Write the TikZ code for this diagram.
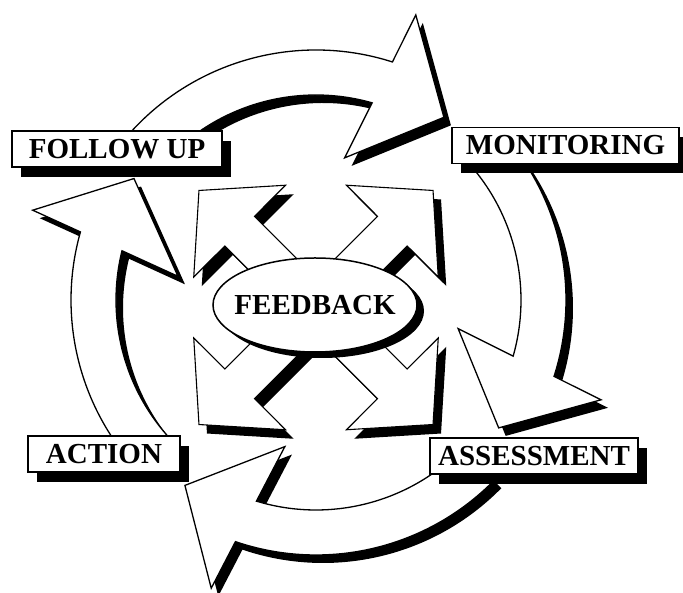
\documentclass[tikz,border=0pt]{standalone}
\usepackage{fontspec}
\setmainfont{Liberation Serif}
\usetikzlibrary{shapes.geometric, shadows}

% 外圈弯箭头：#2 尾部角度，#3 箭头根部角度（顺时针方向）
\newcommand{\cyclearrow}[3][]{%
  \draw[cycle arrow, #1]
    (#2:250) arc[start angle=#2, end angle={#3-1.8}, radius=250]
    -- ({#3-3.3}:302) -- ({#3-19}:223) -- ({#3+4.6}:145)
    -- ({#3+0.1}:205) arc[start angle={#3+0.1}, end angle=#2, radius=205]
    -- cycle;
}

% 中心斜向箭头：#1 指向角度
\newcommand{\hubarrow}[1]{%
  \draw[hub arrow]
    ({#1+90}:21) -- ({#1+11}:110) -- ({#1+31}:126) -- (#1:165.5)
    -- ({#1-31}:126) -- ({#1-11}:110) -- ({#1-90}:21) -- cycle;
}

\begin{document}
\begin{tikzpicture}[
  x=1pt, y=1pt, line join=miter,
  cycle arrow/.style={draw, fill=white, line width=1.3pt,
    preaction={fill=black, transform canvas={shift={(7pt,-8pt)}}}},
  hub arrow/.style={draw, fill=white, line width=1.1pt,
    preaction={fill=black, transform canvas={shift={(8pt,-9pt)}}}},
  tag/.style={draw, fill=white, line width=1.4pt, inner sep=0pt,
    minimum height=36pt, font=\fontsize{29}{30}\selectfont\bfseries,
    drop shadow={shadow xshift=9pt, shadow yshift=-10pt, fill=black, opacity=1}},
  core/.style={ellipse, draw, fill=white, line width=1.5pt, inner sep=0pt,
    minimum width=204pt, minimum height=94pt,
    font=\fontsize{29}{30}\selectfont\bfseries,
    drop shadow={shadow xshift=7pt, shadow yshift=-6pt, fill=black, opacity=1}},
]

\path[use as bounding box, fill=white] (0,0) rectangle (683,593);

\coordinate (O) at (316,293);   % 外圈圆心
\coordinate (H) at (316,285.5); % 中心箭头汇合点

% 外圈四个弯箭头
\begin{scope}[shift={(O)}]
  \cyclearrow{139}{74}                % FOLLOW UP -> MONITORING
  \cyclearrow{41.5}{-16}              % MONITORING -> ASSESSMENT
  \cyclearrow[yshift=-5]{-44.5}{-107} % ASSESSMENT -> ACTION
  \cyclearrow[xshift=5]{222.5}{166}   % ACTION -> FOLLOW UP
\end{scope}

% 中心四个斜向箭头
\begin{scope}[shift={(H)}]
  \foreach \a in {45,135,225,315} {\hubarrow{\a}}
\end{scope}

% 中心椭圆
\node[core] (fb) at (315,288) {\makebox[0pt]{FEEDBACK}};

% 四个标签
\node[tag, minimum width=210pt] (follow)  at (117,444)     {FOLLOW UP};
\node[tag, minimum width=227pt] (monitor) at (565.5,447.5) {MONITORING};
\node[tag, minimum width=208pt] (assess)  at (534,137)     {ASSESSMENT};
\node[tag, minimum width=152pt] (action)  at (104,139)     {ACTION};

\end{tikzpicture}
\end{document}
